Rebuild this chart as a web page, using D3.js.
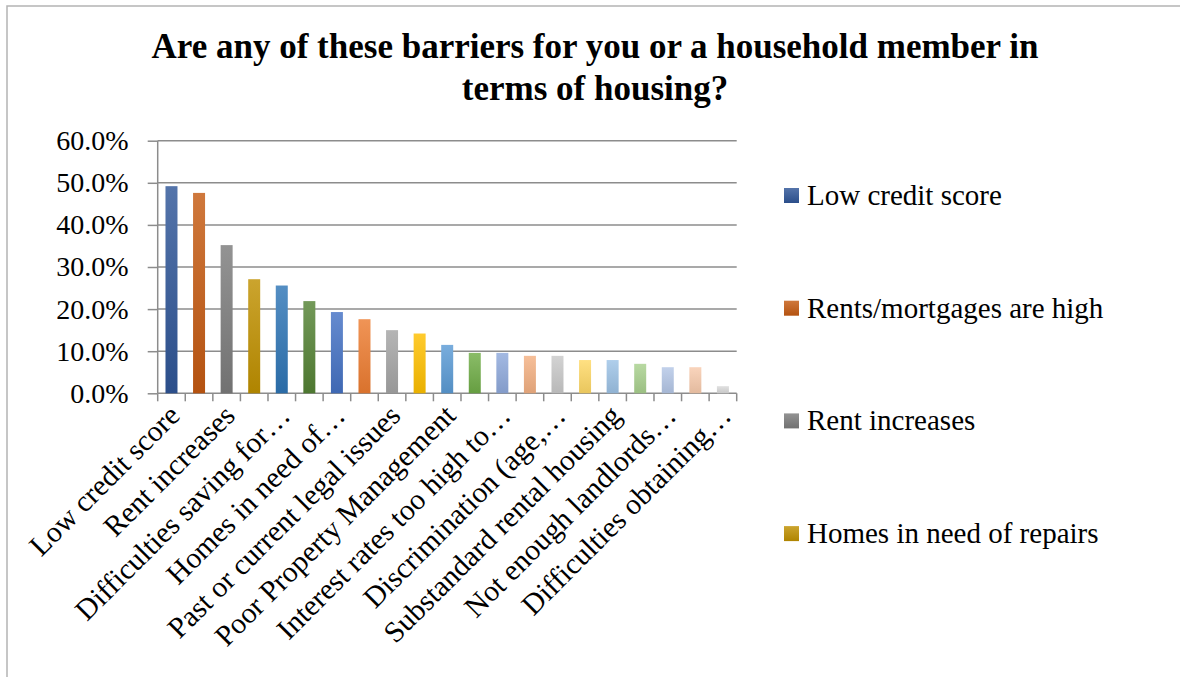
<!DOCTYPE html>
<html lang="en">
<head>
    <meta charset="UTF-8">
    <title>Housing barriers</title>
    <script src="https://d3js.org/d3.v7.min.js"></script>
    <style>
        body {
            margin: 0;
            padding: 0;
            background: #fff;
        }
        svg text {
            font-family: "Liberation Serif", "Times New Roman", serif;
            fill: #000;
        }
    </style>
</head>
<body>
    <svg id="chart" width="1180" height="677"></svg>

    <script>
        // Data (share of respondents)
        const categories = [
            "Low credit score",
            "Rents/mortgages are high",
            "Rent increases",
            "Homes in need of repairs",
            "Difficulties saving for…",
            "Lack of affordable housing",
            "Homes in need of…",
            "Security deposits are high",
            "Past or current legal issues",
            "Utility costs are high",
            "Poor Property Management",
            "Lack of available units",
            "Interest rates too high to…",
            "Eviction history",
            "Discrimination (age,…",
            "Housing too far from work",
            "Substandard rental housing",
            "Lack of accessible housing",
            "Not enough landlords…",
            "Overcrowding",
            "Difficulties obtaining…"
        ];
        const values = [
            0.492, 0.476, 0.352, 0.271, 0.256, 0.219, 0.193, 0.176, 0.150, 0.142,
            0.115, 0.096, 0.096, 0.089, 0.089, 0.079, 0.079, 0.070, 0.062, 0.062,
            0.017
        ];
        const yTicks = [0, 0.1, 0.2, 0.3, 0.4, 0.5, 0.6];
        const barColors = [
            "#2F5597", "#C55A11", "#7B7B7B", "#BF9000", "#2E75B6", "#548235",
            "#4472C4", "#ED7D31", "#A5A5A5", "#FFC000", "#5B9BD5", "#70AD47",
            "#8FAADC", "#F4B183", "#C9C9C9", "#FFD966", "#9DC3E6", "#A9D18E",
            "#B4C7E7", "#F8CBAD", "#DBDBDB"
        ];
        const legendCount = 4; // legend only has room for the first four

        const data = categories.map((c, i) => ({ name: c, value: values[i], color: barColors[i] }));

        const svg = d3.select("#chart");

        // chart frame (runs off the right and bottom edge)
        svg.append("path")
            .attr("d", "M7,700 V6 H1200")
            .attr("fill", "none")
            .attr("stroke", "#b4b4b4")
            .attr("stroke-width", 1.5);

        // Title
        const title = svg.append("text")
            .attr("text-anchor", "middle")
            .attr("font-size", 35)
            .attr("font-weight", "bold");
        title.append("tspan").attr("x", 595).attr("y", 58)
            .text("Are any of these barriers for you or a household member in");
        title.append("tspan").attr("x", 595).attr("y", 100)
            .text("terms of housing?");

        // Scales
        const plotLeft = 157.7, plotRight = 736.7, plotTop = 140.7, plotBottom = 393.3;
        const gap = 0.565;
        const x = d3.scaleBand()
            .domain(categories)
            .range([plotLeft, plotRight])
            .paddingInner(gap)
            .paddingOuter(gap / 2);
        const y = d3.scaleLinear()
            .domain([0, 0.6])
            .range([plotBottom, plotTop]);

        // Gradients for the bars
        const defs = svg.append("defs");
        data.forEach((d, i) => {
            const g = defs.append("linearGradient")
                .attr("id", "grad" + i)
                .attr("x1", 0).attr("y1", 0).attr("x2", 0).attr("y2", 1);
            g.append("stop").attr("offset", "0%")
                .attr("stop-color", d3.interpolateRgb(d.color, "#ffffff")(0.18));
            g.append("stop").attr("offset", "100%")
                .attr("stop-color", d3.color(d.color).darker(0.25));
        });

        // Gridlines + y axis
        const yAxis = svg.append("g")
            .attr("transform", `translate(${plotLeft},0)`)
            .call(d3.axisLeft(y)
                .tickValues(yTicks)
                .tickFormat(d3.format(".1%"))
                .tickSize(10)
                .tickPadding(19));
        yAxis.select(".domain").attr("stroke", "#8c8c8c").attr("stroke-width", 1.5)
            .attr("d", `M0,${plotTop}V${plotBottom}`);
        yAxis.selectAll(".tick line").attr("stroke", "#8c8c8c").attr("stroke-width", 1.5);
        yAxis.selectAll(".tick text")
            .attr("font-size", 28)
            .attr("fill", "#000");

        svg.append("g")
            .selectAll("line")
            .data(yTicks)
            .join("line")
            .attr("x1", plotLeft)
            .attr("x2", plotRight)
            .attr("y1", d => y(d))
            .attr("y2", d => y(d))
            .attr("stroke", "#8c8c8c")
            .attr("stroke-width", 1.5);

        // category boundary ticks on the x axis
        const step = x.step();
        const boundaries = d3.range(categories.length + 1).map(i => plotLeft + i * step);
        svg.append("g")
            .selectAll("line")
            .data(boundaries)
            .join("line")
            .attr("x1", d => d)
            .attr("x2", d => d)
            .attr("y1", plotBottom)
            .attr("y2", plotBottom + 8)
            .attr("stroke", "#8c8c8c")
            .attr("stroke-width", 1.5);

        // Bars
        svg.append("g")
            .selectAll("rect")
            .data(data)
            .join("rect")
            .attr("x", d => x(d.name))
            .attr("y", d => y(d.value))
            .attr("width", x.bandwidth())
            .attr("height", d => y(0) - y(d.value))
            .attr("fill", (d, i) => `url(#grad${i})`);

        // x labels, every other category
        const xAxis = svg.append("g")
            .attr("transform", `translate(0,${plotBottom})`)
            .call(d3.axisBottom(x)
                .tickValues(categories.filter((c, i) => i % 2 === 0))
                .tickSize(0));
        xAxis.select(".domain").remove();
        xAxis.selectAll(".tick text")
            .attr("font-size", 29.5)
            .attr("fill", "#000")
            .attr("text-anchor", "end")
            .attr("y", 0)
            .attr("dy", 0)
            .attr("transform", "translate(10,24) rotate(-45)");

        // Legend
        const legend = svg.append("g")
            .selectAll("g")
            .data(data.slice(0, legendCount))
            .join("g")
            .attr("transform", (d, i) => `translate(784,${195.5 + i * 112.7})`);
        legend.append("rect")
            .attr("x", 0)
            .attr("y", -7.5)
            .attr("width", 15)
            .attr("height", 15)
            .attr("fill", (d, i) => `url(#grad${i})`);
        legend.append("text")
            .attr("x", 23)
            .attr("y", 0)
            .attr("dy", "0.33em")
            .attr("font-size", 29)
            .text(d => d.name);
    </script>
</body>
</html>
